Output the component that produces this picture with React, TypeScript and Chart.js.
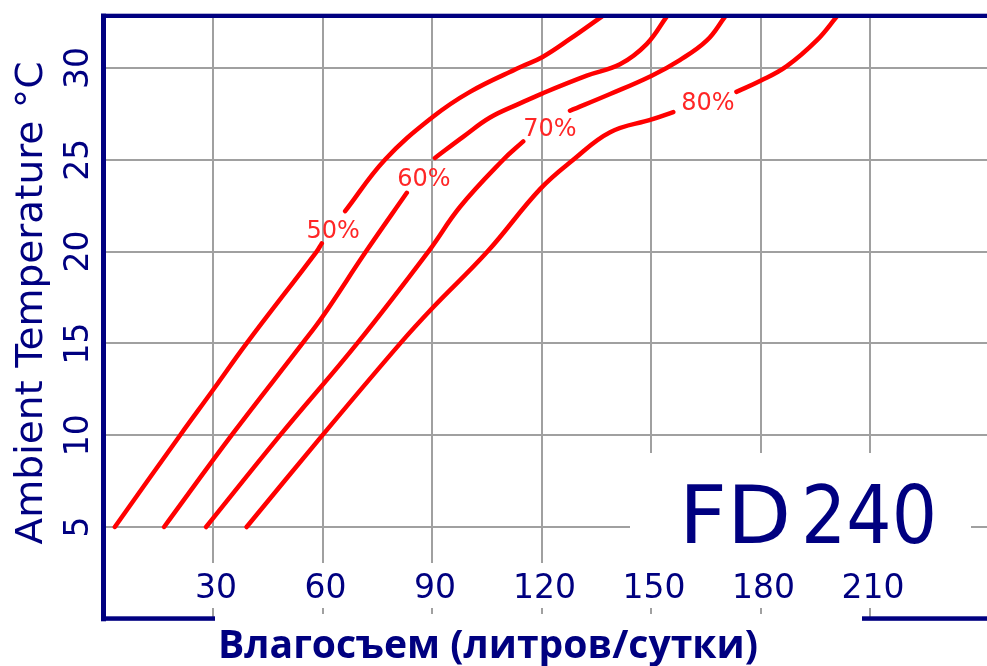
import React, { useEffect, useRef } from "react";
import { Chart, registerables } from "chart.js";

Chart.register(...registerables);

// Axis ticks
const xTicks = [30, 60, 90, 120, 150, 180, 210];
const yTicks = [5, 10, 15, 20, 25, 30];

// Relative humidity curves (null = gap where the label sits)
const rh50X = [3.1, 21.0, 30, 39.2, 58.4, 59.8, 62.8, 66.2, 77.1, 90, 100.4, 114.1, 120.3, 127.8, 136.5];
const rh50Y = [5, 10, 12.46, 15, 20, 20.45, null, 22.2, 25, 27.3, 28.7, 30.04, 30.6, 31.58, 32.8];

const rh60X = [16.6, 35.1, 54.5, 60, 71.9, 83.1, 87, 90.8, 98.6, 105.9, 114.1, 120.3, 132.4, 141.5, 148.8, 154.3];
const rh60Y = [5, 10, 15, 16.45, 20, 23.2, null, 25.1, 26.26, 27.3, 28.07, 28.62, 29.58, 30.2, 31.3, 32.8];

const rh70X = [28.1, 48.4, 69.5, 89, 97.7, 109.5, 115.0, 121, 127.8, 138.8, 150.2, 157.9, 165.3, 170.3];
const rh70Y = [5, 10, 15, 20, 22.44, 25, 26.0, null, 27.67, 28.58, 29.58, 30.43, 31.5, 32.8];

const rh80X = [39.2, 60.0, 81.3, 90, 105.2, 119.6, 128.7, 138.8, 150.2, 156.1, 165, 173.4, 180, 187.2, 195.4, 200.9];
const rh80Y = [5, 10, 15, 16.9, 20, 23.4, 25, 26.5, 27.2, 27.6, null, 28.7, 29.3, 30.1, 31.5, 32.8];

// Curve labels
const curveLabels = ["50%", "60%", "70%", "80%"];
const curveLabelX = [62.9, 87.8, 122.3, 165.6];
const curveLabelY = [21.23, 24.06, 26.78, 28.2];

const xTitle = "Влагосъем (литров/сутки)";
const yTitle = "Ambient Temperature °C";
const modelParts = ["FD", "240"];

const NAVY = "#000080";

function fitText(
  ctx: CanvasRenderingContext2D,
  text: string,
  x: number,
  y: number,
  width: number,
  font: string,
  align: CanvasTextAlign
) {
  ctx.font = font;
  const w = ctx.measureText(text).width;
  const sx = w > 0 ? width / w : 1;
  ctx.save();
  ctx.translate(x, y);
  ctx.scale(sx, 1);
  ctx.textAlign = align;
  ctx.textBaseline = "alphabetic";
  ctx.fillText(text, 0, 0);
  ctx.restore();
}

const overlayPlugin = {
  id: "overlay",
  afterDraw(chart: any) {
    const ctx: CanvasRenderingContext2D = chart.ctx;
    const xs = chart.scales.x;
    const ys = chart.scales.y;
    const area = chart.chartArea;

    ctx.save();
    // white boxes
    ctx.fillStyle = "#ffffff";
    ctx.fillRect(area.left + 4, 563, area.right - area.left, 45);
    ctx.fillRect(630, 453, 341, 110);
    ctx.fillRect(215, 614, 647, 10);

    // frame
    ctx.fillStyle = NAVY;
    ctx.fillRect(area.left - 2.5, area.top - 2.3, 5, area.bottom - area.top + 4.8);
    ctx.fillRect(area.left - 2.5, area.top - 2.3, area.right - area.left + 3, 4.3);
    ctx.fillRect(area.left - 2.5, area.bottom - 2.5, 215 - (area.left - 2.5), 4.5);
    ctx.fillRect(862, area.bottom - 2.5, area.right - 862, 4.5);

    // x tick labels
    ctx.fillStyle = NAVY;
    ctx.font = "33px 'DejaVu Sans'";
    ctx.textAlign = "center";
    ctx.textBaseline = "alphabetic";
    xTicks.forEach((v) => {
      ctx.fillText(String(v), xs.getPixelForValue(v) + 3, 598);
    });

    // y tick labels (rotated)
    yTicks.forEach((v) => {
      ctx.save();
      ctx.translate(88, ys.getPixelForValue(v));
      ctx.rotate(-Math.PI / 2);
      ctx.textAlign = "center";
      ctx.fillText(String(v), 0, 0);
      ctx.restore();
    });

    // y title
    ctx.save();
    ctx.translate(42, 303);
    ctx.rotate(-Math.PI / 2);
    fitText(ctx, yTitle, 0, 0, 483, "37px 'DejaVu Sans'", "center");
    ctx.restore();

    // x title
    fitText(ctx, xTitle, 488, 658, 540, "bold 39px 'Open Sans'", "center");

    // model name
    fitText(ctx, modelParts[0], 679, 543, 112, "80px 'DejaVu Sans'", "left");
    fitText(ctx, modelParts[1], 801, 543, 136, "80px 'DejaVu Sans'", "left");

    // curve labels
    ctx.fillStyle = "#ff2626";
    ctx.font = "24px 'DejaVu Sans'";
    ctx.textAlign = "center";
    curveLabels.forEach((t, i) => {
      const px = xs.getPixelForValue(curveLabelX[i]);
      const py = ys.getPixelForValue(curveLabelY[i]);
      ctx.fillText(t, px, py + 9);
    });
    ctx.restore();
  },
};

function toPoints(xsArr: number[], ysArr: (number | null)[]) {
  return xsArr.map((x, i) => ({ x, y: ysArr[i] }));
}

export default function App() {
  const ref = useRef<HTMLCanvasElement>(null);

  useEffect(() => {
    document.body.style.margin = "0";
    const canvas = ref.current;
    if (!canvas) return;
    const series = [
      toPoints(rh50X, rh50Y),
      toPoints(rh60X, rh60Y),
      toPoints(rh70X, rh70Y),
      toPoints(rh80X, rh80Y),
    ];
    const chart = new Chart(canvas, {
      type: "line",
      data: {
        datasets: series.map((d, i) => ({
          label: curveLabels[i],
          data: d as any,
          borderColor: "#ff0000",
          borderWidth: 4.5,
          pointRadius: 0,
          fill: false,
          spanGaps: false,
          tension: 0.4,
          borderCapStyle: "round" as const,
        })),
      },
      options: {
        responsive: false,
        animation: false,
        layout: { padding: { left: 103.5, top: 16, right: 0, bottom: 47.2 } },
        plugins: { legend: { display: false }, tooltip: { enabled: false } },
        scales: {
          x: {
            type: "linear",
            min: 0,
            max: 242.05,
            afterBuildTicks: (s: any) => {
              s.ticks = xTicks.map((v) => ({ value: v }));
            },
            ticks: { display: false },
            grid: { color: "#a0a0a0", lineWidth: 2, drawTicks: false },
            border: { display: false },
          },
          y: {
            type: "linear",
            min: 0,
            max: 32.83,
            afterBuildTicks: (s: any) => {
              s.ticks = yTicks.map((v) => ({ value: v }));
            },
            ticks: { display: false },
            grid: { color: "#a0a0a0", lineWidth: 2, drawTicks: false },
            border: { display: false },
          },
        },
      },
      plugins: [overlayPlugin],
    });
    return () => chart.destroy();
  }, []);

  return (
    <div style={{ position: "fixed", left: 0, top: 0, background: "#fff" }}>
      <canvas ref={ref} width={987} height={666} style={{ display: "block" }} />
    </div>
  );
}
